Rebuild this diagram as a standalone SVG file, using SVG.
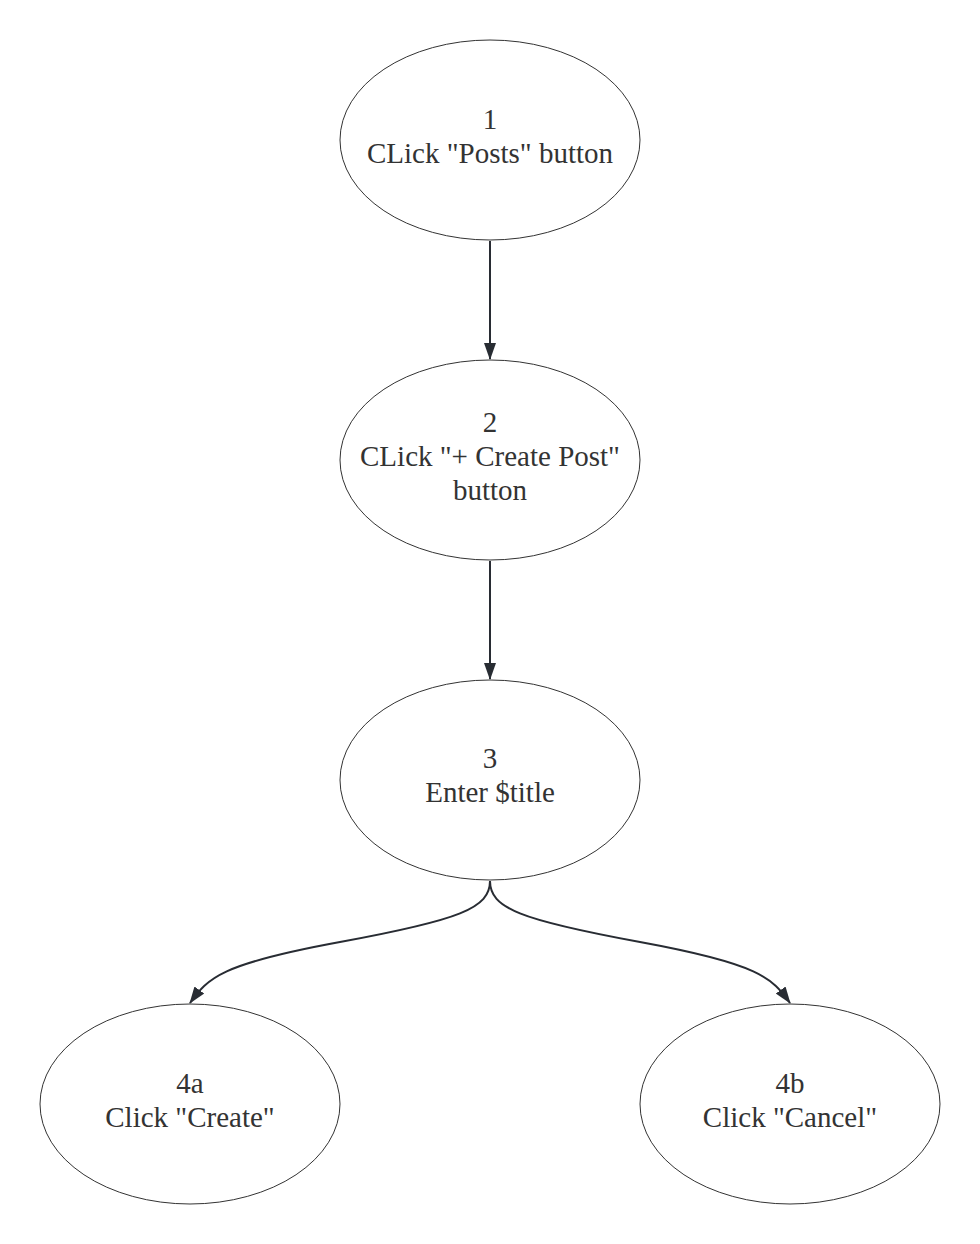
<svg xmlns="http://www.w3.org/2000/svg" width="980" height="1244" viewBox="0 0 980 1244">
<style>
.node ellipse{fill:#ffffff;stroke:#333333;stroke-width:1}
.node text{font-family:"Liberation Serif","Times New Roman",serif;font-size:29px;fill:#333333;text-anchor:middle}
.edge{fill:none;stroke:#282c33;stroke-width:2;marker-end:url(#arr)}
</style>
<defs>
<marker id="arr" markerWidth="17" markerHeight="14" viewBox="0 0 17 14" refX="16" refY="7" orient="auto" markerUnits="userSpaceOnUse">
<path d="M0,1 L17,7 L0,13 Z" fill="#282c33"/>
</marker>
</defs>
<rect width="980" height="1244" fill="#ffffff"/>
<g id="connectors">
<path class="edge" d="M490,241 L490,359"/>
<path class="edge" d="M490,561 L490,679"/>
<path class="edge" d="M490,881 C490,908 460,920 340,942 C220,964 208,978 190,1003"/>
<path class="edge" d="M490,881 C490,908 520,920 640,942 C760,964 772,978 790,1003"/>
</g>
<g id="node1" class="node">
<ellipse cx="490" cy="140" rx="150" ry="100"/>
<text x="490" y="129">1</text>
<text x="490" y="163">CLick "Posts" button</text>
</g>
<g id="node2" class="node">
<ellipse cx="490" cy="460" rx="150" ry="100"/>
<text x="490" y="432">2</text>
<text x="490" y="466">CLick "+ Create Post"</text>
<text x="490" y="500">button</text>
</g>
<g id="node3" class="node">
<ellipse cx="490" cy="780" rx="150" ry="100"/>
<text x="490" y="768">3</text>
<text x="490" y="802">Enter $title</text>
</g>
<g id="node4a" class="node">
<ellipse cx="190" cy="1104" rx="150" ry="100"/>
<text x="190" y="1093">4a</text>
<text x="190" y="1127">Click "Create"</text>
</g>
<g id="node4b" class="node">
<ellipse cx="790" cy="1104" rx="150" ry="100"/>
<text x="790" y="1093">4b</text>
<text x="790" y="1127">Click "Cancel"</text>
</g>
</svg>
